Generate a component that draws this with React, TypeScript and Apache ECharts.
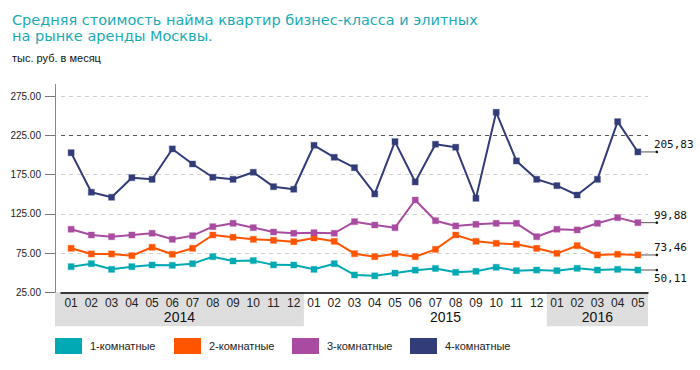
import React, { useEffect, useRef } from "react";
import * as echarts from "echarts";

const months = [
  "01", "02", "03", "04", "05", "06", "07", "08", "09", "10", "11", "12",
  "01", "02", "03", "04", "05", "06", "07", "08", "09", "10", "11", "12",
  "01", "02", "03", "04", "05",
];
const years = ["2014", "2015", "2016"];
const yearStart = [0, 12, 24];
const yearEnd = [11, 23, 28];
const yearShaded = [true, false, true];

const seriesNames = ["1-комнатные", "2-комнатные", "3-комнатные", "4-комнатные"];

const room1 = [57.7, 61.5, 54.3, 57.7, 59.8, 59.4, 61.5, 70.4, 64.9, 65.5, 60.0, 59.8, 54.3, 61.5, 47.1, 46.0, 49.5, 53.2, 55.4, 50.5, 51.8, 56.9, 52.6, 53.4, 52.6, 55.6, 53.4, 54.3, 53.4];
const room2 = [81.1, 73.9, 73.9, 71.7, 82.4, 73.5, 81.1, 98.1, 95.2, 92.6, 91.3, 89.5, 94.3, 90.0, 74.2, 70.4, 74.2, 70.4, 79.8, 98.1, 90.0, 87.5, 86.2, 81.1, 74.7, 84.4, 72.6, 73.5, 72.6];
const room3 = [105.4, 98.1, 95.9, 98.1, 100.3, 92.6, 97.2, 108.7, 113.0, 107.4, 101.9, 100.3, 101.0, 100.3, 115.1, 110.8, 107.4, 142.7, 116.3, 109.6, 111.7, 113.0, 113.0, 95.9, 105.4, 104.5, 113.0, 120.2, 113.8];
const room4 = [203.0, 152.6, 146.2, 171.2, 169.1, 207.8, 188.6, 171.7, 169.1, 178.1, 159.7, 156.4, 212.5, 197.2, 183.9, 150.4, 217.1, 165.7, 213.8, 210.0, 144.9, 254.6, 192.5, 169.1, 161.0, 149.1, 169.1, 242.6, 204.0];

const endLabels = ["50,11", "73,46", "99,88", "205,83"];

const yMin = 25;
const yMax = 290;
const yStep = 50;

const colors = ["#00A9B3", "#FF5400", "#A94BA0", "#323C78"];
const haloColors = ["rgba(0,169,179,0.35)", "rgba(255,84,0,0.35)", "rgba(169,75,160,0.35)", "rgba(50,60,120,0.35)"];
const legendLeft = [55, 174, 292, 410];
const yearLabelShift = [0, 1, 0];

const Y_OFFSET = 6;

export default function App() {
  const ref = useRef<HTMLDivElement>(null);

  useEffect(() => {
    if (!ref.current) return;
    const chart = echarts.init(ref.current, undefined, { renderer: "svg" });
    const allSeries = [room1, room2, room3, room4];

    const lineSeries = allSeries.map((d, i) => ({
      name: seriesNames[i],
      type: "line",
      data: d,
      symbol: "rect",
      symbolSize: 6,
      showAllSymbol: true,
      lineStyle: { color: colors[i], width: 2 },
      itemStyle: { color: colors[i], borderColor: haloColors[i], borderWidth: 1.2 },
      z: 3 + i,
    }));

    const option: any = {
      animation: false,
      title: {
        text: "Средняя стоимость найма квартир бизнес-класса и элитных\nна рынке аренды Москвы.",
        left: 12,
        top: 12,
        padding: 0,
        textStyle: {
          color: "#1AABB5",
          fontFamily: "DejaVu Sans",
          fontSize: 14.5,
          fontWeight: "normal",
          lineHeight: 16,
        },
        subtext: "тыс. руб. в месяц",
        itemGap: 8,
        subtextStyle: {
          color: "#111",
          fontFamily: "Liberation Sans",
          fontSize: 11,
        },
      },
      legend: seriesNames.map((n, i) => ({
        data: [n],
        left: legendLeft[i],
        top: 338,
        padding: 0,
        icon: "rect",
        itemWidth: 27,
        itemHeight: 16,
        itemStyle: { borderWidth: 0 },
        selectedMode: false,
        textStyle: {
          color: "#222",
          fontFamily: "Liberation Sans",
          fontSize: 11,
          padding: [0, 0, 0, 3],
        },
      })),
      grid: { left: 61, right: 52, top: 84.5, bottom: 77.7, containLabel: false },
      xAxis: {
        type: "category",
        data: months,
        boundaryGap: true,
        axisLine: { lineStyle: { color: "#000", width: 1.5 } },
        axisTick: { show: false },
        axisLabel: {
          interval: 0,
          margin: 5,
          color: "#222",
          fontFamily: "Liberation Sans",
          fontSize: 12,
        },
        splitLine: { show: false },
      },
      yAxis: {
        type: "value",
        min: yMin,
        max: yMax,
        interval: yStep,
        offset: Y_OFFSET,
        axisLine: { show: true, lineStyle: { color: "#888", width: 1 } },
        axisTick: { show: true, length: 10, lineStyle: { color: "#777" } },
        axisLabel: {
          showMaxLabel: false,
          margin: 14,
          color: "#222",
          fontFamily: "Liberation Sans",
          fontSize: 10,
          formatter: (v: number) => v.toFixed(2),
        },
        splitLine: {
          show: true,
          showMinLine: false,
          showMaxLine: false,
          lineStyle: {
            type: [4, 4],
            color: ["#cfcfcf", "#cfcfcf", "#cfcfcf", "#555555", "#cfcfcf"],
            width: 1,
          },
        },
      },
      series: [
        {
          type: "custom",
          silent: true,
          z: -1,
          clip: false,
          data: years.map((_, i) => [yearStart[i], yearEnd[i], yMin, i]),
          encode: { x: [0, 1], y: 2 },
          renderItem: (params: any, api: any) => {
            const idx = api.value(3);
            const s = api.coord([api.value(0), yMin]);
            const e = api.coord([api.value(1), yMin]);
            const w = api.size([1, 0])[0];
            let x0 = s[0] - w / 2;
            const x1 = e[0] + w / 2;
            if (api.value(0) === 0) x0 = params.coordSys.x - Y_OFFSET;
            const y0 = s[1];
            const children: any[] = [];
            if (yearShaded[idx]) {
              children.push({
                type: "rect",
                shape: { x: x0, y: y0, width: x1 - x0, height: 34 },
                style: { fill: "#DEDEDE" },
              });
            }
            children.push({
              type: "text",
              x: (x0 + x1) / 2 + yearLabelShift[idx] * w,
              y: y0 + 25,
              style: {
                text: years[idx],
                fill: "#111",
                font: "14px Liberation Sans",
                align: "center",
                verticalAlign: "middle",
              },
            });
            return { type: "group", children };
          },
        },
        ...lineSeries,
        {
          type: "custom",
          silent: true,
          z: 10,
          clip: false,
          data: allSeries.map((d, i) => [d.length - 1, d[d.length - 1], i]),
          encode: { x: 0, y: 1 },
          renderItem: (params: any, api: any) => {
            const idx = api.value(2);
            const p = api.coord([api.value(0), api.value(1)]);
            const below = idx === 0;
            return {
              type: "group",
              children: [
                {
                  type: "line",
                  shape: { x1: p[0] + 3, y1: p[1], x2: p[0] + 19, y2: p[1] },
                  style: { stroke: "#555", lineWidth: 1 },
                },
                {
                  type: "circle",
                  shape: { cx: p[0] + 19, cy: p[1], r: 1.3 },
                  style: { fill: "#111" },
                },
                {
                  type: "text",
                  x: p[0] + 16,
                  y: p[1] + (below ? 8 : -7),
                  style: {
                    text: endLabels[idx],
                    fill: "#111",
                    font: "11px DejaVu Sans Mono",
                    align: "left",
                    verticalAlign: "middle",
                  },
                },
              ],
            };
          },
        },
      ],
    };

    chart.setOption(option);
    return () => chart.dispose();
  }, []);

  return (
    <div
      ref={ref}
      style={{ position: "fixed", left: 0, top: 0, width: 700, height: 370, background: "#fff" }}
    />
  );
}
